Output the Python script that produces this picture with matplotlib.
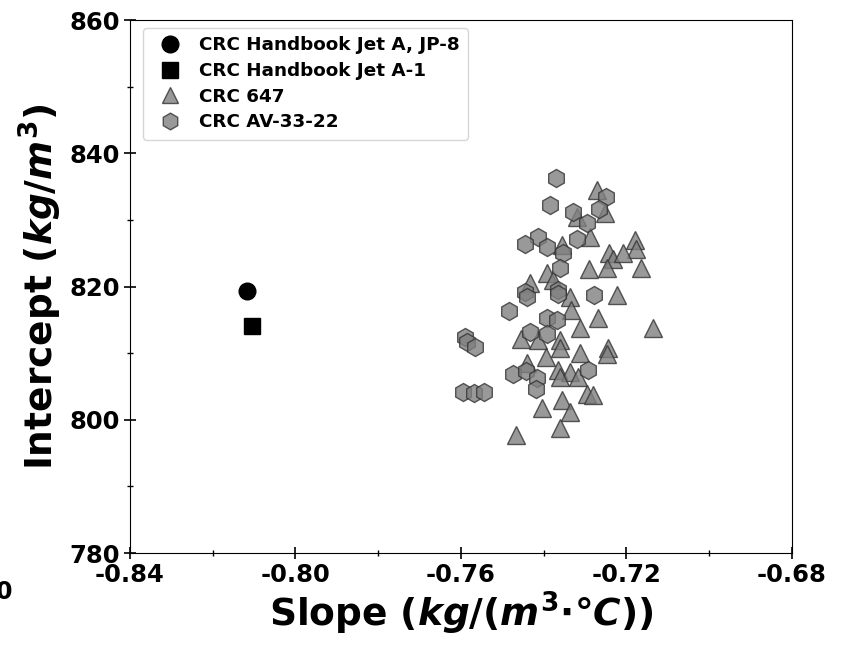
import matplotlib
matplotlib.use("Agg")
import matplotlib.pyplot as plt
from matplotlib.ticker import MultipleLocator

plt.rcParams['font.family'] = 'DejaVu Sans'
plt.rcParams['font.weight'] = 'bold'
plt.rcParams['mathtext.fontset'] = 'custom'
plt.rcParams['mathtext.rm'] = 'DejaVu Sans:bold'
plt.rcParams['mathtext.it'] = 'DejaVu Sans:bold:italic'
plt.rcParams['mathtext.bf'] = 'DejaVu Sans:bold'

# CRC handbook values
jeta_slope = [-0.8117]
jeta_int = [819.3]
jeta1_slope = [-0.8105]
jeta1_int = [814.1]

# CRC 647 samples
crc647_slope = [-0.7271, -0.7252, -0.7320, -0.7288, -0.7356, -0.7179, -0.7177,
                -0.7242, -0.7233, -0.7208, -0.7291, -0.7247, -0.7165, -0.7392,
                -0.7378, -0.7433, -0.7337, -0.7223, -0.7334, -0.7269, -0.7312,
                -0.7136, -0.7455, -0.7414, -0.7361, -0.7361, -0.7395, -0.7245,
                -0.7247, -0.7312, -0.7440, -0.7366, -0.7337, -0.7317, -0.7361,
                -0.7296, -0.7281, -0.7356, -0.7404, -0.7337, -0.7361, -0.7467]
crc647_int = [834.5, 831.0, 830.4, 827.4, 826.2, 827.0, 825.6,
              825.0, 824.1, 825.0, 822.6, 822.8, 822.8, 822.0,
              821.0, 820.5, 818.4, 818.7, 816.5, 815.3, 813.8,
              813.8, 812.1, 812.0, 812.0, 810.8, 809.4, 810.8,
              809.9, 810.0, 808.5, 807.5, 807.2, 806.4, 806.4,
              803.9, 803.7, 803.0, 801.8, 801.2, 798.8, 797.7]

# CRC AV-33-22 samples
av_slope = [-0.7370, -0.7385, -0.7329, -0.7250, -0.7267, -0.7296, -0.7320,
            -0.7414, -0.7445, -0.7392, -0.7353, -0.7361, -0.7366, -0.7366,
            -0.7445, -0.7440, -0.7279, -0.7484, -0.7392, -0.7368, -0.7433,
            -0.7392, -0.7590, -0.7585, -0.7566, -0.7474, -0.7443, -0.7416,
            -0.7419, -0.7293, -0.7595, -0.7569, -0.7544]
av_int = [836.3, 832.2, 831.2, 833.4, 831.6, 829.5, 827.1,
          827.4, 826.4, 825.9, 825.0, 822.8, 819.5, 818.9,
          819.2, 818.4, 818.7, 816.3, 815.3, 815.0, 813.2,
          812.9, 812.4, 811.7, 810.9, 806.9, 807.3, 806.3,
          804.6, 807.5, 804.2, 804.0, 804.2]

fig = plt.figure(figsize=(8.43, 6.48), dpi=100)
ax = fig.add_axes([0.1542, 0.1466, 0.7853, 0.8225])

ax.plot(jeta_slope, jeta_int, 'o', color='black', markersize=12, label='CRC Handbook Jet A, JP-8')
ax.plot(jeta1_slope, jeta1_int, 's', color='black', markersize=12, label='CRC Handbook Jet A-1')
ax.plot(crc647_slope, crc647_int, '^', markerfacecolor='gray', markeredgecolor='#333333',
        markeredgewidth=1, alpha=0.8, markersize=13, linestyle='none', label='CRC 647')
ax.plot(av_slope, av_int, 'h', markerfacecolor='gray', markeredgecolor='#333333',
        markeredgewidth=1, alpha=0.8, markersize=13, linestyle='none', label='CRC AV-33-22')

ax.set_xlim(-0.84, -0.68)
ax.set_ylim(780, 860)
ax.xaxis.set_major_locator(MultipleLocator(0.04))
ax.xaxis.set_minor_locator(MultipleLocator(0.02))
ax.yaxis.set_major_locator(MultipleLocator(20))
ax.yaxis.set_minor_locator(MultipleLocator(10))
ax.set_xticklabels([f'{v:.2f}' for v in ax.get_xticks()])
ax.tick_params(which='major', direction='inout', length=8, width=1.2, labelsize=17.5)
ax.tick_params(which='minor', direction='inout', length=4, width=1)

ax.set_xlabel(r'Slope ($kg/(m^3{\cdot}°C)$)', fontsize=27, fontweight='bold', labelpad=2)
ax.set_ylabel(r'Intercept ($kg/m^3$)', fontsize=27, fontweight='bold', labelpad=4)

leg = ax.legend(loc='upper left', bbox_to_anchor=(0.02, 0.985), borderaxespad=0,
                fontsize=13.2, handletextpad=0.6, borderpad=0.45, labelspacing=0.42)
for h in leg.legend_handles:
    h.set_markersize(12)

fig.text(0.005, 0.087, '0', fontsize=17, fontweight='bold', ha='center', va='center')

fig.savefig('out.png', dpi=100)
